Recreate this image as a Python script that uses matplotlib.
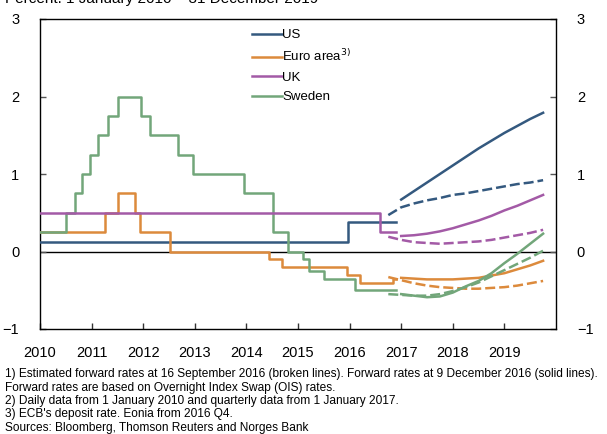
import matplotlib
matplotlib.use("Agg")
import matplotlib.pyplot as plt
from matplotlib.lines import Line2D

plt.rcParams['font.family'] = ['Liberation Sans', 'DejaVu Sans']

# ---- Data (fractional years) ----
us_dates = [2010.0, 2015.96, 2016.9]
us_levels = [0.125, 0.375, 0.375]

uk_dates = [2010.0, 2016.59, 2016.9]
uk_levels = [0.5, 0.25, 0.25]

euro_dates = [2010.0, 2011.25, 2011.52, 2011.85, 2011.94, 2012.52, 2014.44,
              2014.69, 2015.94, 2016.21, 2016.85, 2016.9]
euro_levels = [0.25, 0.5, 0.75, 0.5, 0.25, 0.0, -0.1, -0.2, -0.3, -0.4, -0.36, -0.36]

se_dates = [2010.0, 2010.51, 2010.68, 2010.81, 2010.97, 2011.12, 2011.32, 2011.51,
            2011.96, 2012.13, 2012.68, 2012.96, 2013.96, 2014.52, 2014.81, 2015.1,
            2015.22, 2015.5, 2016.11, 2016.9]
se_levels = [0.25, 0.5, 0.75, 1.0, 1.25, 1.5, 1.75, 2.0, 1.75, 1.5, 1.25, 1.0,
             0.75, 0.25, 0.0, -0.1, -0.25, -0.35, -0.5, -0.5]

# Forward rates, quarterly
fwd_sep_dates = [2016.75, 2017.0, 2017.25, 2017.5, 2017.75, 2018.0, 2018.25,
                 2018.5, 2018.75, 2019.0, 2019.25, 2019.5, 2019.75]
fwd_dec_dates = [2017.0, 2017.25, 2017.5, 2017.75, 2018.0, 2018.25,
                 2018.5, 2018.75, 2019.0, 2019.25, 2019.5, 2019.75]

us_sep = [0.47, 0.57, 0.62, 0.66, 0.69, 0.73, 0.75, 0.78, 0.81, 0.84, 0.87, 0.89, 0.92]
us_dec = [0.67, 0.78, 0.89, 1.00, 1.11, 1.22, 1.33, 1.43, 1.53, 1.62, 1.71, 1.79]

uk_sep = [0.19, 0.15, 0.12, 0.11, 0.10, 0.11, 0.12, 0.13, 0.15, 0.18, 0.21, 0.24, 0.28]
uk_dec = [0.20, 0.21, 0.23, 0.26, 0.30, 0.35, 0.40, 0.46, 0.53, 0.59, 0.66, 0.73]

euro_sep = [-0.33, -0.37, -0.41, -0.44, -0.46, -0.47, -0.48, -0.48, -0.47, -0.46, -0.44, -0.41, -0.38]
euro_dec = [-0.34, -0.35, -0.36, -0.36, -0.36, -0.35, -0.34, -0.31, -0.28, -0.23, -0.18, -0.12]

se_sep = [-0.55, -0.56, -0.57, -0.57, -0.55, -0.51, -0.46, -0.40, -0.32, -0.24, -0.16, -0.08, 0.01]
se_dec = [-0.55, -0.57, -0.59, -0.58, -0.53, -0.45, -0.38, -0.28, -0.15, -0.03, 0.10, 0.23]

year_ticks = list(range(2010, 2020))
y_ticks = [-1, 0, 1, 2, 3]
y_ticklabels = ['\u22121', '0', '1', '2', '3']

labels = ['US', 'Euro area$^{3)}$', 'UK', 'Sweden']
c_us = '#34597f'
c_eu = '#dc8a3c'
c_uk = '#a35aa6'
c_se = '#72a67a'

W, H = 607, 434
fig = plt.figure(figsize=(W / 100, H / 100), dpi=100)
ax = fig.add_axes([40 / W, (H - 329) / H, (556 - 40) / W, (329 - 19) / H])

lw = 1.8
dash = (4, 1.6)

ax.axhline(0, color='black', lw=1.0, zorder=1.5)

ax.step(us_dates, us_levels, where='post', color=c_us, lw=lw, zorder=3)
ax.step(euro_dates, euro_levels, where='post', color=c_eu, lw=lw, zorder=3)
ax.step(se_dates, se_levels, where='post', color=c_se, lw=lw, zorder=3)
ax.step(uk_dates, uk_levels, where='post', color=c_uk, lw=lw, zorder=3)

for sep, dec, c in [(us_sep, us_dec, c_us), (euro_sep, euro_dec, c_eu),
                    (uk_sep, uk_dec, c_uk), (se_sep, se_dec, c_se)]:
    ax.plot(fwd_sep_dates, sep, color=c, lw=lw, dashes=dash, zorder=3)
    ax.plot(fwd_dec_dates, dec, color=c, lw=lw, zorder=3)

ax.set_xlim(2010, 2020)
ax.set_ylim(-1, 3)
ax.set_xticks(year_ticks)
ax.set_xticklabels([str(y) for y in year_ticks])
ax.set_yticks(y_ticks)
ax.set_yticklabels(y_ticklabels)

ax.tick_params(axis='x', direction='in', length=4, width=1, pad=12,
               labelsize=10.5, color='#333333')
ax.tick_params(axis='y', direction='in', length=4, width=1, pad=15,
               labelsize=10.5, color='#555555', right=True,
               labelright=True)

for s in ax.spines.values():
    s.set_linewidth(1.0)
    s.set_color('black')

handles = [Line2D([], [], color=c, lw=lw) for c in (c_us, c_eu, c_uk, c_se)]
fig.legend(handles, labels, loc='upper left',
           bbox_to_anchor=(252 / W, 1 - 29 / H), frameon=False,
           fontsize=9.5, handlelength=2.3, handletextpad=0.0,
           labelspacing=0.55, borderpad=0, borderaxespad=0)

fig.text(5 / W, 1 - 3.0 / H, 'Percent. 1 January 2010 \u2013 31 December 2019',
         fontsize=11, va='baseline', ha='left')

notes = [
    '1) Estimated forward rates at 16 September 2016 (broken lines). Forward rates at 9 December 2016 (solid lines).',
    'Forward rates are based on Overnight Index Swap (OIS) rates.',
    '2) Daily data from 1 January 2010 and quarterly data from 1 January 2017.',
    "3) ECB's deposit rate. Eonia from 2016 Q4.",
    'Sources: Bloomberg, Thomson Reuters and Norges Bank',
]
y0 = 374
for i, n in enumerate(notes):
    fig.text(5 / W, 1 - (y0 + i * 13.5) / H, n, fontsize=8.55, va='center', ha='left')

fig.savefig('out.png', dpi=100)
